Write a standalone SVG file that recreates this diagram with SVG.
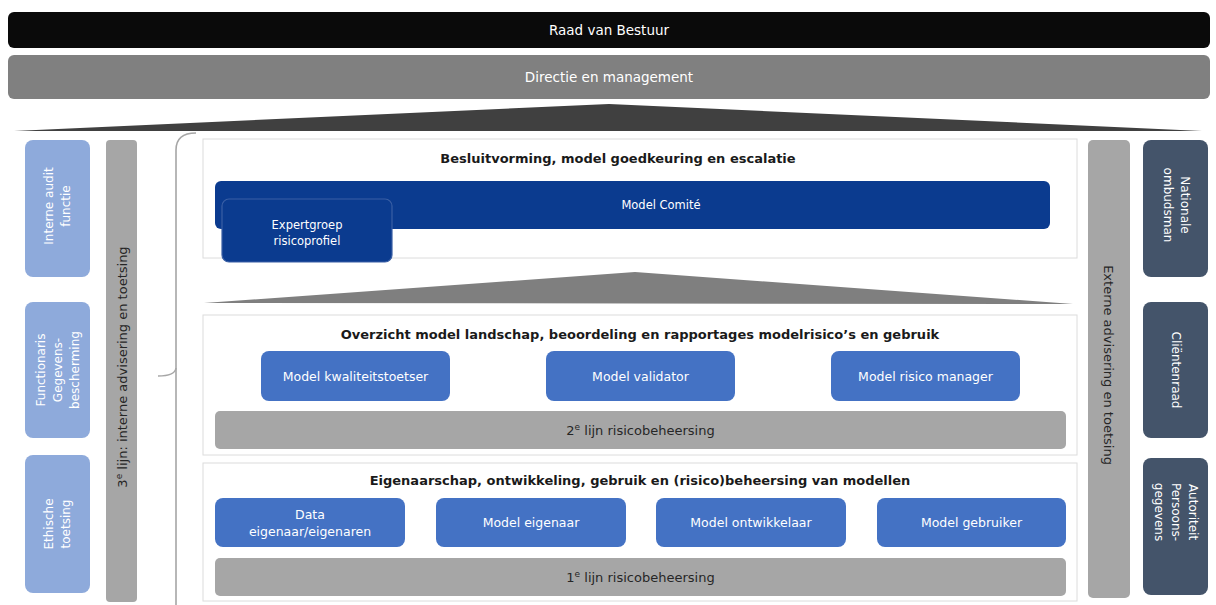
<svg xmlns="http://www.w3.org/2000/svg" width="1216" height="605" viewBox="0 0 1216 605">
<style>
text{font-family:"DejaVu Sans","Verdana",sans-serif;text-anchor:middle}
.w{fill:#ffffff;font-size:12.5px}
.ws{fill:#ffffff;font-size:12px}
.wc{fill:#ffffff;font-size:11.5px}
.wt{fill:#ffffff;font-size:13.5px}
.d{fill:#262626;font-size:13px}
.t{fill:#1a1a1a;font-size:13px;font-weight:bold}
.lb{fill:#8eaadb}
.rb{fill:#44546a}
.gb{fill:#a6a6a6}
.mb{fill:#4472c4}
.panel{fill:#ffffff;stroke:#dcdcdc;stroke-width:1}
</style>
<rect width="1216" height="605" fill="#ffffff"/>

<g id="raad">
<rect x="8" y="12" width="1202" height="36" rx="6" fill="#0a0a0a"/>
<text class="wt" x="609" y="35">Raad van Bestuur</text>
</g>
<g id="directie">
<rect x="8" y="55" width="1202" height="44" rx="6" fill="#808080"/>
<text class="wt" x="609" y="82">Directie en management</text>
</g>
<g id="roof-top">
<polygon points="14,131 609,104 1202,131" fill="#404040"/>
</g>

<g id="left-col">
<g id="interne-audit">
<rect class="lb" x="25" y="140" width="65" height="137" rx="8"/>
<g transform="translate(57.5,206) rotate(-90)">
<text class="ws" x="0" y="-5">Interne audit</text>
<text class="ws" x="0" y="12">functie</text>
</g>
</g>
<g id="functionaris">
<rect class="lb" x="25" y="302" width="65" height="136" rx="8"/>
<g transform="translate(57.5,370) rotate(-90)">
<text class="ws" x="0" y="-13">Functionaris</text>
<text class="ws" x="0" y="4">Gegevens-</text>
<text class="ws" x="0" y="21">bescherming</text>
</g>
</g>
<g id="ethische">
<rect class="lb" x="25" y="455" width="65" height="138" rx="8"/>
<g transform="translate(57.5,524) rotate(-90)">
<text class="ws" x="0" y="-5">Ethische</text>
<text class="ws" x="0" y="12">toetsing</text>
</g>
</g>
<g id="derde-lijn">
<rect class="gb" x="106" y="140" width="31" height="462" rx="4"/>
<text class="d" transform="translate(121.5,367) rotate(-90)" x="0" y="5">3<tspan font-size="9" dy="-5">e</tspan><tspan dy="5"> lijn: interne advisering en toetsing</tspan></text>
</g>
</g>

<g id="connectors">
<path d="M196,133 Q176,133 176,150 V605" fill="none" stroke="#a6a6a6" stroke-width="1.6"/>
<path d="M176,368 Q175,376 158,376" fill="none" stroke="#a6a6a6" stroke-width="1.6"/>
</g>

<g id="panel-besluit">
<rect class="panel" x="203" y="139" width="874" height="119"/>
<text class="t" x="618" y="163">Besluitvorming, model goedkeuring en escalatie</text>
<g id="model-comite">
<rect x="215" y="181" width="835" height="48" rx="6" fill="#0b3b8f"/>
<text class="wc" x="661" y="209">Model Comité</text>
</g>
<g id="expertgroep">
<rect x="222" y="199" width="170" height="63" rx="7" fill="#0b3b8f" stroke="#3a5fa5" stroke-width="1.2"/>
<text class="wc" x="307" y="229">Expertgroep</text>
<text class="wc" x="307" y="245">risicoprofiel</text>
</g>
</g>

<g id="roof-mid">
<polygon points="204,303 635,272 1073,304" fill="#7f7f7f"/>
</g>

<g id="panel-overzicht">
<rect class="panel" x="203" y="315" width="874" height="140"/>
<text class="t" x="640" y="339">Overzicht model landschap, beoordeling en rapportages modelrisico’s en gebruik</text>
<g id="kwaliteitstoetser"><rect class="mb" x="261" y="351" width="189" height="50" rx="8"/><text class="w" x="355.5" y="381">Model kwaliteitstoetser</text></g>
<g id="validator"><rect class="mb" x="546" y="351" width="189" height="50" rx="8"/><text class="w" x="640.5" y="381">Model validator</text></g>
<g id="risico-manager"><rect class="mb" x="831" y="351" width="189" height="50" rx="8"/><text class="w" x="925.5" y="381">Model risico manager</text></g>
<g id="tweede-lijn"><rect class="gb" x="215" y="411" width="851" height="38" rx="5"/><text class="d" x="640.5" y="435">2<tspan font-size="9" dy="-5">e</tspan><tspan dy="5"> lijn risicobeheersing</tspan></text></g>
</g>

<g id="panel-eigenaarschap">
<rect class="panel" x="203" y="463" width="874" height="138"/>
<text class="t" x="640" y="485">Eigenaarschap, ontwikkeling, gebruik en (risico)beheersing van modellen</text>
<g id="data-eigenaar"><rect class="mb" x="215" y="498" width="190" height="49" rx="8"/><text class="w" x="310" y="519">Data</text><text class="w" x="310" y="536">eigenaar/eigenaren</text></g>
<g id="model-eigenaar"><rect class="mb" x="436" y="498" width="190" height="49" rx="8"/><text class="w" x="531" y="527">Model eigenaar</text></g>
<g id="model-ontwikkelaar"><rect class="mb" x="656" y="498" width="190" height="49" rx="8"/><text class="w" x="751" y="527">Model ontwikkelaar</text></g>
<g id="model-gebruiker"><rect class="mb" x="877" y="498" width="189" height="49" rx="8"/><text class="w" x="971.5" y="527">Model gebruiker</text></g>
<g id="eerste-lijn"><rect class="gb" x="215" y="558" width="851" height="38" rx="5"/><text class="d" x="640.5" y="582">1<tspan font-size="9" dy="-5">e</tspan><tspan dy="5"> lijn risicobeheersing</tspan></text></g>
</g>

<g id="right-col">
<g id="externe">
<rect class="gb" x="1088" y="140" width="42" height="458" rx="5"/>
<text class="d" transform="translate(1109,365) rotate(90)" x="0" y="5">Externe advisering en toetsing</text>
</g>
<g id="ombudsman">
<rect class="rb" x="1143" y="140" width="65" height="137" rx="8"/>
<g transform="translate(1175.5,205) rotate(90)">
<text class="ws" x="0" y="-5">Nationale</text>
<text class="ws" x="0" y="12">ombudsman</text>
</g>
</g>
<g id="clientenraad">
<rect class="rb" x="1143" y="302" width="65" height="136" rx="8"/>
<text class="ws" transform="translate(1175.5,370) rotate(90)" x="0" y="4">Cliëntenraad</text>
</g>
<g id="autoriteit">
<rect class="rb" x="1143" y="458" width="65" height="137" rx="8"/>
<g transform="translate(1175.5,512) rotate(90)">
<text class="ws" x="0" y="-13">Autoriteit</text>
<text class="ws" x="0" y="4">Persoons-</text>
<text class="ws" x="0" y="21">gegevens</text>
</g>
</g>
</g>
</svg>
